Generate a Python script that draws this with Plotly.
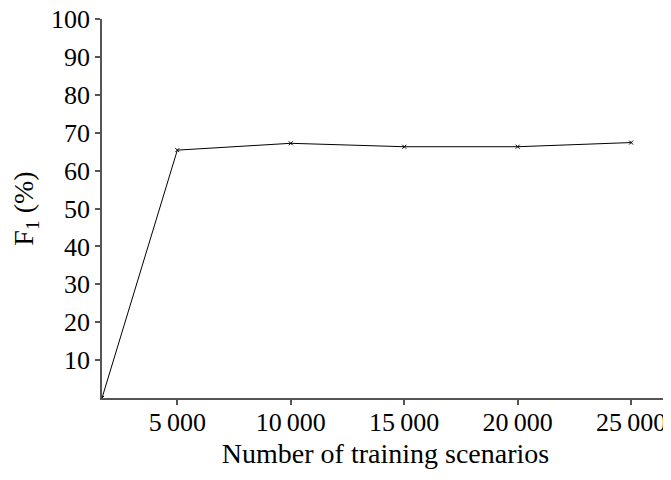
import plotly.graph_objects as go

scenarios = [1680, 5000, 10000, 15000, 20000, 25000]
f1 = [0, 65.4, 67.2, 66.3, 66.3, 67.4]
x_ticks = [5000, 10000, 15000, 20000, 25000]
x_tick_labels = ["5\u2009000", "10\u2009000", "15\u2009000", "20\u2009000", "25\u2009000"]
y_ticks = [10, 20, 30, 40, 50, 60, 70, 80, 90, 100]

fig = go.Figure()
fig.add_trace(go.Scatter(
    x=scenarios, y=f1, mode="lines+markers",
    line=dict(color="black", width=1),
    marker=dict(symbol="x-thin", size=4, color="black", line=dict(width=1, color="black")),
    cliponaxis=False, showlegend=False,
))

axis_common = dict(
    showline=True, linecolor="#555555", linewidth=1.5,
    ticks="outside", ticklen=5, tickcolor="#555555", tickwidth=1.5,
    showgrid=False, zeroline=False, ticklabeloverflow="allow", automargin=False,
    tickfont=dict(family="Liberation Serif", size=26, color="black"),
)

fig.update_layout(
    width=663, height=464,
    margin=dict(l=94, r=2, t=11, b=74),
    paper_bgcolor="white", plot_bgcolor="white",
    font=dict(family="Liberation Serif", size=26, color="black"),
    xaxis=dict(range=[1680, 26670], tickvals=x_ticks, ticktext=x_tick_labels,
               ticklabelstandoff=-5,
               title=dict(text="Number of training scenarios", standoff=7,
                          font=dict(family="Liberation Serif", size=28)),
               **axis_common),
    yaxis=dict(range=[0, 100], tickvals=y_ticks,
               title=dict(text="F<sub>1</sub> (%)", standoff=22,
                          font=dict(family="Liberation Serif", size=28)),
               **axis_common),
)

fig.write_html("out.html")
